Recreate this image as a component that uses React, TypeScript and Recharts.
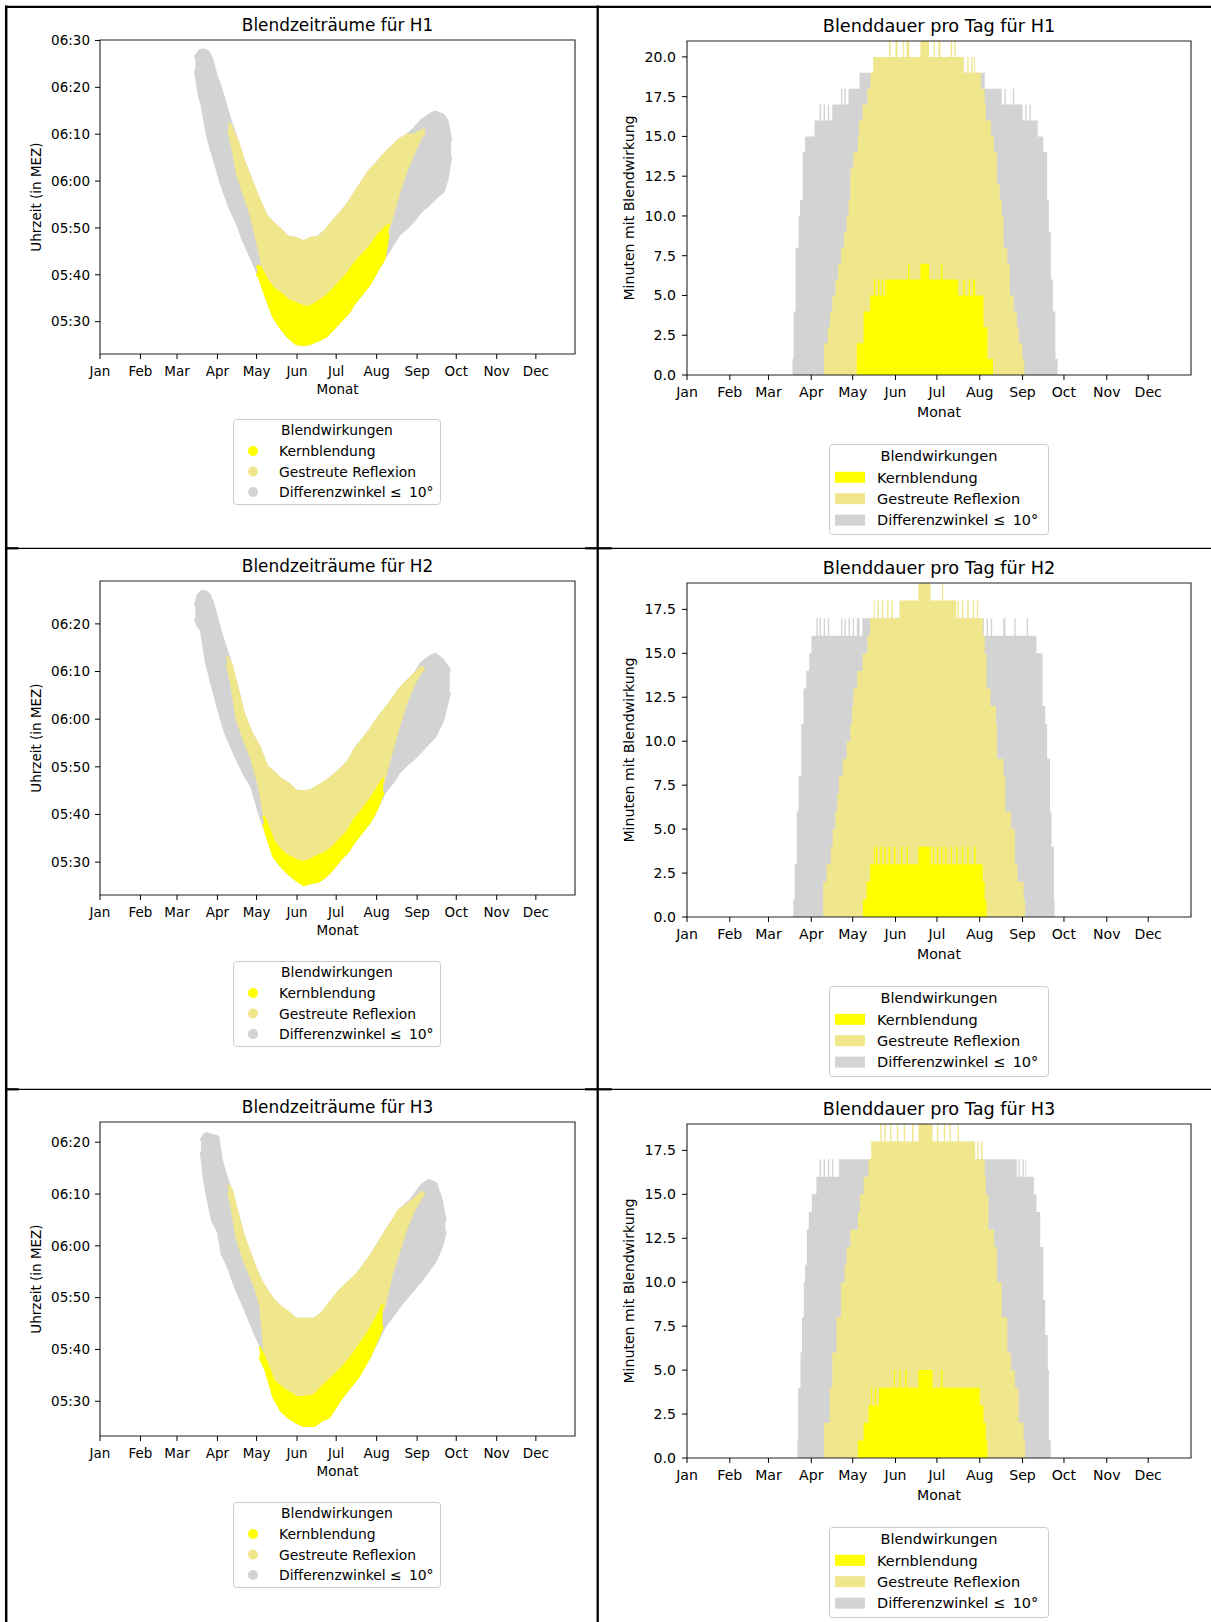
import React from 'react';
import { ComposedChart, Area, XAxis, YAxis, ReferenceArea, Legend } from 'recharts';

const FONT = 'DejaVu Sans, sans-serif';

// x axis: day of year, month starts
const MONTH_DAYS = [0, 31, 59, 90, 120, 151, 181, 212, 243, 273, 304, 334];
const MONTH_LABELS = ['Jan', 'Feb', 'Mar', 'Apr', 'May', 'Jun', 'Jul', 'Aug', 'Sep', 'Oct', 'Nov', 'Dec'];

const LEGEND_TITLE = 'Blendwirkungen';
const LEGEND_LABELS = ['Kernblendung', 'Gestreute Reflexion', 'Differenzwinkel ≤ \u200910°'];
const SERIES_COLORS = ['#ffff00', '#f0e68c', '#d3d3d3'];

// y ticks (minutes after midnight for the time charts)
const TIME_TICKS_H1 = [330, 340, 350, 360, 370, 380, 390];
const TIME_TICKS_H23 = [330, 340, 350, 360, 370, 380];
const DUR_TICKS_H1 = [0, 2.5, 5, 7.5, 10, 12.5, 15, 17.5, 20];
const DUR_TICKS_H23 = [0, 2.5, 5, 7.5, 10, 12.5, 15, 17.5];

// ---- Blendzeiträume: [day, earliest minute, latest minute] ----
const H1_TIME_DIFF = [
  [73, 383.5, 386.6], [76, 378, 387.8], [78, 376.3, 388], [80, 373, 388], [83, 368.8, 387.6],
  [86, 365.9, 386], [89, 363.1, 382.7], [93, 359.2, 379.5], [99, 354.5, 373.8], [105, 351, 368.8],
  [110, 347.1, 364.5], [116, 343.5, 360.2], [122, 339.5, 356], [128, 334.6, 352.4], [133, 331, 351],
  [139, 328.5, 349.5], [144, 326.8, 348.1], [150, 325.3, 347.8], [156, 325, 347.1], [161, 325.3, 347.8],
  [167, 326, 348], [173, 326.8, 349.5], [178, 328.2, 351.3], [184, 330, 353.1], [190, 331.7, 355.2],
  [195, 333.9, 357.4], [201, 336, 359.9], [207, 338.1, 362.4], [212, 340.6, 363.8], [218, 343.5, 365.8],
  [224, 346.3, 367.4], [229, 348.5, 368.8], [235, 349.9, 369.8], [241, 351.7, 371.3], [246, 353.5, 372.9],
  [252, 354.9, 374.1], [257, 356.3, 374.8], [263, 357.7, 374.1], [266, 360.2, 373], [269, 365.2, 368.8],
];
const H1_TIME_GESTREUT = [
  [98.5, 370.8, 372.3], [100, 369, 372], [102, 366.6, 370.6], [105, 361.7, 368.8], [110, 357.4, 364.5],
  [116, 352.4, 360.2], [122, 345.3, 356], [128, 337.5, 352.4], [133, 335.5, 351], [139, 334.4, 349.5],
  [144, 333.1, 348.1], [150, 332.4, 347.8], [156, 331.7, 347.1], [161, 331.7, 347.8], [167, 332.7, 348],
  [173, 333.8, 349.5], [178, 335.2, 351.3], [184, 337, 353.1], [190, 338.8, 355.2], [195, 340.9, 357.4],
  [201, 342.7, 359.9], [207, 344.5, 362.4], [212, 346.6, 363.8], [218, 348.4, 365.8], [221, 349.5, 366.6],
  [224, 352.4, 367.4], [229, 357.4, 368.8], [235, 362.4, 369.8], [241, 366.3, 369.9], [246, 369.3, 370.8],
  [248.5, 370.2, 370.9],
];
const H1_TIME_KERN = [
  [120.5, 340, 341.8], [122, 339.5, 341.9], [125, 337, 340.5], [128, 334.6, 338.9], [133, 331, 337],
  [139, 328.5, 335.9], [144, 326.8, 334.6], [150, 325.3, 333.9], [156, 325, 333.2], [161, 325.3, 333.2],
  [167, 326, 334.2], [173, 326.8, 335.3], [178, 328.2, 336.7], [184, 330, 338.5], [190, 331.7, 340.3],
  [195, 333.9, 342.4], [201, 336, 344.2], [207, 338.1, 346], [212, 340.6, 348.1], [218, 343.5, 349.9],
  [221, 348.5, 350.6],
];

const H2_TIME_DIFF = [
  [73, 381, 384], [75, 379.5, 386], [77.5, 378.7, 386.8], [81, 372.5, 386.8], [84, 369, 386.1],
  [87, 366, 384], [90, 362.7, 380.8], [96, 357.1, 375.2], [99, 355.2, 372.8], [105, 351.5, 366.9],
  [110, 348.7, 361.3], [116, 345.9, 357.1], [122, 340.3, 354.3], [128, 335.4, 350.1], [133, 331.2, 348.9],
  [139, 329.1, 347.3], [144, 327.7, 346.6], [150, 326.3, 345], [156, 325.2, 344.8], [161, 325.6, 345],
  [167, 325.9, 345.9], [173, 327, 346.9], [178, 328.4, 348], [184, 330.5, 349.4], [190, 332.2, 351.1],
  [195, 334.3, 353.6], [201, 336.4, 355.7], [207, 338.5, 357.8], [212, 341, 359.9], [218, 344.5, 362],
  [224, 346.6, 364.1], [229, 348.7, 366.2], [235, 350.4, 367.9], [241, 351.8, 369.5], [246, 353.2, 371.7],
  [252, 355, 373], [257, 356.4, 373.7], [263, 359.9, 372.4], [268, 365.5, 370.3],
];
const H2_TIME_GESTREUT = [
  [97.5, 371.4, 373.1], [101, 366.9, 371.2], [105, 359.9, 366.9], [110, 355.9, 361.3], [116, 351.8, 357.1],
  [122, 345.9, 354.3], [126, 339.5, 351.5], [128, 337, 350.1], [133, 333.4, 348.9], [139, 331.3, 347.3],
  [144, 330.3, 346.6], [150, 329.4, 345], [156, 329, 344.8], [161, 329.4, 345], [167, 330.3, 345.9],
  [173, 331, 346.9], [178, 332, 348], [184, 333.8, 349.4], [190, 335.5, 351.1], [195, 337.9, 353.6],
  [201, 340, 355.7], [207, 342.1, 357.8], [212, 344.2, 359.9], [217, 346.5, 361.6], [224, 353.6, 364.1],
  [229, 358.5, 366.2], [235, 363.7, 367.9], [241, 367.6, 369.5], [246, 370, 370.9], [248, 370.2, 370.7],
];
const H2_TIME_KERN = [
  [125.5, 337.8, 339.5], [128, 335.4, 338], [133, 331.2, 334.4], [139, 329.1, 332.3], [144, 327.7, 331.3],
  [150, 326.3, 330.4], [156, 325.2, 330], [161, 325.6, 330.4], [167, 325.9, 331.3], [173, 327, 332],
  [178, 328.4, 333], [184, 330.5, 334.8], [190, 332.2, 336.5], [195, 334.3, 338.9], [201, 336.4, 341],
  [207, 338.5, 343.1], [212, 341, 345.2], [217, 344.5, 347.5],
];

const H3_TIME_DIFF = [
  [77.5, 378, 380.5], [80, 372.5, 381.5], [82, 369.8, 381.7], [86, 364.9, 381.4], [90.5, 362.7, 381],
  [93.3, 358.5, 376.5], [97.6, 356.2, 372.7], [99, 355.3, 371.7], [104.7, 351.4, 366.9], [110.3, 348.2, 361.7],
  [118.8, 343, 355.9], [124.5, 339.8, 352.7], [133, 330.8, 349.5], [141.5, 327.6, 347.5], [150, 326, 345.9],
  [155.6, 325.3, 345.9], [164.1, 325.3, 345.9], [169.8, 326.3, 346.9], [175.4, 326.9, 348.8], [183.9, 330.2, 351.4],
  [195.3, 334, 354], [206.6, 338.5, 357.8], [217.9, 344.3, 362.4], [229.3, 348.2, 366.9], [237.8, 350.8, 368.8],
  [246.3, 353.3, 371.7], [252, 355.3, 372.7], [257.6, 357.2, 372], [261.8, 359.8, 368.8], [264.7, 362.7, 364.9],
];
const H3_TIME_GESTREUT = [
  [98.5, 370.1, 371.6], [101, 367.5, 370.8], [104.7, 361.7, 366.9], [110.3, 357.2, 361.7], [118.8, 352.1, 355.9],
  [123, 348.5, 353.5], [127, 336.9, 351.8], [133, 333, 349.5], [138.7, 331.7, 348.2], [144.3, 330.8, 347.2],
  [150, 329.8, 345.9], [155.6, 329.8, 345.9], [164.1, 330.1, 345.9], [169.8, 331.7, 346.9], [175.4, 333, 348.8],
  [183.9, 335, 351.4], [189.6, 336.6, 352.8], [198, 339.5, 354.8], [206.6, 342.7, 357.8], [212.3, 345.3, 360],
  [217.9, 348.3, 362.4], [223.6, 354.6, 364.6], [229.3, 359.1, 366.9], [235, 363.6, 367.9], [240.6, 366.9, 369],
  [246.3, 369.4, 370.3], [248, 369.7, 370.2],
];
const H3_TIME_KERN = [
  [122.5, 338.5, 340.3], [127, 336, 337.9], [133, 330.8, 334], [138.7, 328.2, 332.7], [144.3, 326.9, 331.8],
  [150, 326, 330.8], [155.6, 325.3, 330.8], [164.1, 325.3, 331.1], [169.8, 326.3, 332.7], [175.4, 326.9, 334],
  [183.9, 330.2, 336], [189.6, 332.1, 337.6], [198, 334.7, 340.5], [206.6, 338.5, 343.7], [212.3, 341.8, 346.3],
  [216.5, 344.3, 348.5],
];

// ---- Blenddauer: [day where level starts, minutes] ----
const H1_DUR_DIFF = [
  [76.4, 1], [77.2, 4], [78.6, 8], [80.8, 10], [81.9, 11], [83.8, 14], [85.5, 15], [92.3, 16], [96, 17],
  [97, 16], [99, 17], [100, 16], [102, 17], [103, 16], [105.2, 17], [111.5, 18], [112.5, 17], [114, 18],
  [115, 17], [117, 18], [125, 19], [215.6, 18], [227.9, 17], [230, 18], [231, 17], [236, 18], [237, 17],
  [243, 16], [245, 17], [246, 16], [248, 17], [249, 16], [254, 15], [258, 14], [260.8, 11], [262.1, 9],
  [263.5, 6], [265, 4], [266.8, 1], [268.4, 0],
];
const H1_DUR_GESTREUT = [
  [99.2, 2], [101.9, 3], [103.5, 4], [105.2, 5], [107.4, 6], [109.3, 7], [111.5, 8], [113.7, 9], [115.6, 10],
  [117, 11], [118.3, 13], [120.5, 14], [123.8, 15], [124.6, 16], [127.1, 17], [130.6, 18], [132.8, 19],
  [134.8, 20], [146.3, 21], [147.5, 20], [151, 21], [152.5, 20], [156.5, 21], [157.3, 20], [159, 21],
  [161, 20], [169, 21], [175.3, 20], [178.6, 21], [179.5, 20], [182, 21], [183.5, 20], [191, 21], [192, 20],
  [193.5, 21], [194.5, 20], [200.5, 19], [203, 20], [204, 19], [206, 20], [207, 19], [208, 20], [208.7, 19],
  [212.8, 18], [215.6, 17], [216.4, 16], [220.2, 15], [222.4, 14], [224.6, 12], [226.5, 11], [227.9, 10],
  [229.3, 8], [232, 7], [233.9, 5], [236.6, 4], [238.8, 3], [240.2, 2], [242.9, 1], [244.3, 0],
];
const H1_DUR_KERN = [
  [123, 2], [127.9, 4], [132.6, 5], [135.3, 6], [136.3, 5], [138.5, 6], [139.5, 5], [141, 6], [142, 5],
  [143.5, 6], [160, 7], [161, 6], [169, 7], [175.3, 6], [184, 7], [185, 6], [196.4, 5], [200, 6], [201, 5],
  [204, 6], [205, 5], [207, 6], [208.7, 5], [214.7, 3], [217.5, 1], [221.6, 0],
];

const H2_DUR_DIFF = [
  [77, 1], [78, 3], [79.5, 6], [80.8, 8], [82.7, 11], [84.4, 13], [86.3, 14], [88.5, 15], [90.1, 16],
  [93.7, 17], [94.7, 16], [96, 17], [97, 16], [99, 17], [100, 16], [102, 17], [103, 16], [111.5, 17],
  [112.5, 16], [114, 17], [115, 16], [117, 17], [118, 16], [120, 17], [121, 16], [123, 17], [125, 16],
  [127, 17], [212.8, 16], [214, 17], [215, 16], [217, 17], [218, 16], [220, 17], [221, 16], [229, 17],
  [230.6, 16], [237, 17], [238, 16], [246, 17], [247, 16], [253.1, 15], [257.5, 12], [259.5, 11],
  [260.8, 9], [262.9, 6], [264, 4], [265.7, 1], [266.2, 0],
];
const H2_DUR_GESTREUT = [
  [98.6, 2], [101, 3], [104.1, 4], [105.5, 5], [107.4, 6], [108.8, 7], [110.1, 8], [112.8, 9], [115.6, 10],
  [118.3, 11], [119.5, 12], [120.5, 13], [123.3, 14], [127.1, 15], [130.6, 16], [132.6, 17], [135.3, 18],
  [136, 17], [138, 18], [139, 17], [141, 18], [142, 17], [145, 18], [146, 17], [148, 18], [149, 17],
  [153.9, 18], [167.6, 19], [176.4, 18], [184.6, 19], [185.5, 18], [195, 17], [196, 18], [197, 17],
  [199, 18], [200, 17], [203, 18], [204, 17], [207, 18], [208, 17], [210, 18], [210.9, 17], [214.2, 16],
  [215.6, 15], [216.9, 13], [219.7, 12], [223.8, 11], [224.6, 9], [229.3, 8], [230.6, 6], [234.7, 5],
  [237.5, 3], [239.4, 2], [243.8, 1], [244.9, 0],
];
const H2_DUR_KERN = [
  [127.4, 1], [130.1, 2], [132.6, 3], [135.3, 4], [136, 3], [137, 4], [138, 3], [140, 4], [141, 3],
  [143, 4], [144, 3], [146, 4], [147, 3], [150, 4], [151, 3], [155, 4], [156, 3], [159, 4], [160, 3],
  [167.6, 4], [176.4, 3], [178, 4], [179, 3], [181, 4], [182, 3], [184, 4], [185, 3], [187, 4], [188, 3],
  [191, 4], [192, 3], [195, 4], [196, 3], [199, 4], [200, 3], [203, 4], [204, 3], [208, 4], [209, 3],
  [214.2, 2], [215.6, 1], [216.9, 0],
];

const H3_DUR_DIFF = [
  [80, 1], [80.5, 4], [82.2, 6], [83.3, 8], [84.6, 10], [85.5, 11], [86.8, 13], [88.2, 14], [90.4, 15],
  [93.7, 16], [96, 17], [97, 16], [99, 17], [100, 16], [102, 17], [103, 16], [105, 17], [106, 16],
  [110.1, 17], [238.8, 16], [240, 17], [241, 16], [243, 17], [244, 16], [245, 17], [245.7, 16],
  [251.2, 15], [253.1, 14], [255.8, 12], [258, 9], [259.4, 7], [261.3, 5], [262.1, 1], [263.5, 0],
];
const H3_DUR_GESTREUT = [
  [99.2, 2], [103.3, 4], [105.2, 6], [108.2, 8], [111.5, 10], [114.2, 11], [115.6, 12], [118.3, 13],
  [123.8, 14], [125.2, 15], [127.9, 16], [131.5, 17], [133.4, 18], [140, 19], [141, 18], [143, 19],
  [144, 18], [147, 19], [148, 18], [152, 19], [153, 18], [157, 19], [158, 18], [163, 19], [164, 18],
  [167.6, 19], [177.8, 18], [181, 19], [182, 18], [186, 19], [187, 18], [190, 19], [191, 18], [196, 19],
  [197, 18], [208.7, 17], [210, 18], [211, 17], [213, 18], [214, 17], [215.6, 16], [216.4, 15],
  [218.3, 13], [222.4, 12], [224.6, 10], [227.9, 8], [232, 6], [234.7, 5], [237.5, 4], [240.2, 2],
  [243.8, 1], [244.9, 0],
];
const H3_DUR_KERN = [
  [123.8, 1], [127.9, 2], [131.5, 3], [133.4, 4], [134, 3], [136, 4], [137, 3], [138.9, 4], [149.8, 5],
  [150.5, 4], [153.9, 5], [154.8, 4], [158, 5], [159, 4], [167.6, 5], [177.8, 4], [184, 5], [185, 4],
  [212, 3], [214.7, 2], [216.4, 1], [217.5, 0],
];

const toRange = (rows: number[][]) => rows.map(([d, lo, hi]) => ({ d, r: [lo, hi] }));
const toStep = (rows: number[][]) => rows.map(([d, v]) => ({ d, v }));
const fmtMonth = (d: number) => MONTH_LABELS[MONTH_DAYS.indexOf(d)] ?? '';
const fmtTime = (m: number) => {
  const h = Math.floor(m / 60);
  const mm = Math.round(m - h * 60);
  return `${String(h).padStart(2, '0')}:${String(mm).padStart(2, '0')}`;
};

function TimeLegend() {
  const w = 208, h = 86, fs = 13.9;
  return (
    <svg width={w} height={h} style={{ display: 'block' }}>
      <rect x={0.5} y={0.5} width={w - 1} height={h - 1} rx={3} fill="#fff" stroke="#cccccc" />
      <text x={w / 2} y={16} textAnchor="middle" fontSize={fs} fontFamily={FONT}>{LEGEND_TITLE}</text>
      {LEGEND_LABELS.map((lab, i) => (
        <g key={lab}>
          <circle cx={20} cy={32 + i * 20.5} r={5} fill={SERIES_COLORS[i]} />
          <text x={46} y={37 + i * 20.5} fontSize={fs} fontFamily={FONT}>{lab}</text>
        </g>
      ))}
    </svg>
  );
}

function DurLegend() {
  const w = 220, h = 91, fs = 14.5;
  return (
    <svg width={w} height={h} style={{ display: 'block' }}>
      <rect x={0.5} y={0.5} width={w - 1} height={h - 1} rx={3} fill="#fff" stroke="#cccccc" />
      <text x={w / 2} y={17} textAnchor="middle" fontSize={fs} fontFamily={FONT}>{LEGEND_TITLE}</text>
      {LEGEND_LABELS.map((lab, i) => (
        <g key={lab}>
          <rect x={6} y={33.3 + i * 21.4 - 5.5} width={30} height={11} fill={SERIES_COLORS[i]} />
          <text x={48} y={38.5 + i * 21.4} fontSize={fs} fontFamily={FONT}>{lab}</text>
        </g>
      ))}
    </svg>
  );
}

function TimePanel({ top, plotTop, title, diff, gestreut, kern, yDomain, yTicks }: any) {
  const W = 597, H = 542, plotH = 314, axisH = 40, fs = 13.5;
  const band = { type: 'linear' as const, fillOpacity: 1, strokeWidth: 2.5, strokeLinecap: 'round' as const,
    strokeLinejoin: 'round' as const, isAnimationActive: false, dot: false, activeDot: false };
  return (
    <div style={{ position: 'absolute', left: 0, top, width: W, height: H }}>
      <svg width={W} height={40} style={{ position: 'absolute', left: 0, top: 0 }}>
        <text x={337.5} y={plotTop - 8.9} textAnchor="middle" fontSize={16.9} fontFamily={FONT}>{title}</text>
      </svg>
      <ComposedChart width={W} height={H} margin={{ top: plotTop, right: 22, left: 30, bottom: H - plotTop - plotH - axisH }}
        style={{ fontFamily: FONT }}>
        <XAxis dataKey="d" type="number" domain={[0, 364]} allowDataOverflow ticks={MONTH_DAYS} interval={0}
          tickFormatter={fmtMonth} axisLine={false} tickLine={{ stroke: '#000' }} tickSize={5} tickMargin={7}
          height={axisH} tick={{ fontSize: fs, fill: '#000' }}
          label={{ value: 'Monat', position: 'insideBottom', offset: 0, fontSize: fs, fill: '#000' }} />
        <YAxis type="number" domain={yDomain} allowDataOverflow ticks={yTicks} interval={0} tickFormatter={fmtTime}
          axisLine={false} tickLine={{ stroke: '#000' }} tickSize={5} tickMargin={5} width={70}
          tick={{ fontSize: fs, fill: '#000' }}
          label={{ value: 'Uhrzeit (in MEZ)', angle: -90, position: 'insideLeft', offset: 6, fontSize: fs, fill: '#000', style: { textAnchor: 'middle' } }} />
        <Area {...band} data={toRange(diff)} dataKey="r" fill={SERIES_COLORS[2]} stroke={SERIES_COLORS[2]} />
        <Area {...band} data={toRange(gestreut)} dataKey="r" fill={SERIES_COLORS[1]} stroke={SERIES_COLORS[1]} />
        <Area {...band} data={toRange(kern)} dataKey="r" fill={SERIES_COLORS[0]} stroke={SERIES_COLORS[0]} />
        <ReferenceArea x1={0} x2={364} y1={yDomain[0]} y2={yDomain[1]} fill="none" fillOpacity={0}
          stroke="#222" strokeWidth={1.1} ifOverflow="visible" />
        <Legend layout="vertical" align="center" verticalAlign="middle"
          wrapperStyle={{ left: 233, top: 413, width: 208, height: 86 }} content={() => <TimeLegend />} />
      </ComposedChart>
    </div>
  );
}

function DurPanel({ top, plotTop, title, diff, gestreut, kern, yDomain, yTicks }: any) {
  const W = 614, H = 542, plotH = 334, axisH = 42, fs = 14.1;
  return (
    <div style={{ position: 'absolute', left: 597, top, width: W, height: H }}>
      <svg width={W} height={40} style={{ position: 'absolute', left: 0, top: 0 }}>
        <text x={342} y={plotTop - 8.6} textAnchor="middle" fontSize={17.7} fontFamily={FONT}>{title}</text>
      </svg>
      <ComposedChart width={W} height={H} margin={{ top: plotTop, right: 20, left: 26, bottom: H - plotTop - plotH - axisH }}
        style={{ fontFamily: FONT }}>
        <XAxis dataKey="d" type="number" domain={[0, 365]} allowDataOverflow ticks={MONTH_DAYS} interval={0}
          tickFormatter={fmtMonth} axisLine={false} tickLine={{ stroke: '#000' }} tickSize={5} tickMargin={7}
          height={axisH} tick={{ fontSize: fs, fill: '#000' }}
          label={{ value: 'Monat', position: 'insideBottom', offset: 0, fontSize: fs, fill: '#000' }} />
        <YAxis type="number" domain={yDomain} allowDataOverflow ticks={yTicks} interval={0}
          tickFormatter={(v: number) => v.toFixed(1)} axisLine={false} tickLine={{ stroke: '#000' }} tickSize={5}
          tickMargin={6} width={64} tick={{ fontSize: fs, fill: '#000' }}
          label={{ value: 'Minuten mit Blendwirkung', angle: -90, position: 'insideLeft', offset: 6, fontSize: fs, fill: '#000', style: { textAnchor: 'middle' } }} />
        <Area data={toStep(diff)} dataKey="v" type="stepAfter" fill={SERIES_COLORS[2]} fillOpacity={1}
          stroke="none" isAnimationActive={false} dot={false} activeDot={false} />
        <Area data={toStep(gestreut)} dataKey="v" type="stepAfter" fill={SERIES_COLORS[1]} fillOpacity={1}
          stroke="none" isAnimationActive={false} dot={false} activeDot={false} />
        <Area data={toStep(kern)} dataKey="v" type="stepAfter" fill={SERIES_COLORS[0]} fillOpacity={1}
          stroke="none" isAnimationActive={false} dot={false} activeDot={false} />
        <ReferenceArea x1={0} x2={365} y1={yDomain[0]} y2={yDomain[1]} fill="none" fillOpacity={0}
          stroke="#222" strokeWidth={1.1} ifOverflow="visible" />
        <Legend layout="vertical" align="center" verticalAlign="middle"
          wrapperStyle={{ left: 232, top: 438, width: 220, height: 91 }} content={() => <DurLegend />} />
      </ComposedChart>
    </div>
  );
}

export default function App() {
  return (
    <div style={{ position: 'absolute', left: 0, top: 0, width: 1211, height: 1622, background: '#fff', overflow: 'hidden', fontFamily: FONT }}>
      <TimePanel top={6} plotTop={34} title="Blendzeiträume für H1" diff={H1_TIME_DIFF} gestreut={H1_TIME_GESTREUT}
        kern={H1_TIME_KERN} yDomain={[323.1, 390.1]} yTicks={TIME_TICKS_H1} />
      <TimePanel top={548} plotTop={33} title="Blendzeiträume für H2" diff={H2_TIME_DIFF} gestreut={H2_TIME_GESTREUT}
        kern={H2_TIME_KERN} yDomain={[323.1, 389]} yTicks={TIME_TICKS_H23} />
      <TimePanel top={1089} plotTop={33} title="Blendzeiträume für H3" diff={H3_TIME_DIFF} gestreut={H3_TIME_GESTREUT}
        kern={H3_TIME_KERN} yDomain={[323.3, 383.9]} yTicks={TIME_TICKS_H23} />
      <DurPanel top={6} plotTop={35} title="Blenddauer pro Tag für H1" diff={H1_DUR_DIFF} gestreut={H1_DUR_GESTREUT}
        kern={H1_DUR_KERN} yDomain={[0, 21]} yTicks={DUR_TICKS_H1} />
      <DurPanel top={548} plotTop={35} title="Blenddauer pro Tag für H2" diff={H2_DUR_DIFF} gestreut={H2_DUR_GESTREUT}
        kern={H2_DUR_KERN} yDomain={[0, 19]} yTicks={DUR_TICKS_H23} />
      <DurPanel top={1089} plotTop={35} title="Blenddauer pro Tag für H3" diff={H3_DUR_DIFF} gestreut={H3_DUR_GESTREUT}
        kern={H3_DUR_KERN} yDomain={[0, 19]} yTicks={DUR_TICKS_H23} />
      <svg width={1211} height={1622} style={{ position: 'absolute', left: 0, top: 0, pointerEvents: 'none' }}>
        <line x1={6.2} y1={5.5} x2={6.2} y2={1622} stroke="#000" strokeWidth={2.5} />
        <line x1={5} y1={6.8} x2={1211} y2={6.8} stroke="#000" strokeWidth={2.3} />
        <line x1={597.7} y1={5.5} x2={597.7} y2={1622} stroke="#000" strokeWidth={2.3} />
        <line x1={5} y1={548.3} x2={1211} y2={548.3} stroke="#000" strokeWidth={1.2} />
        <line x1={5} y1={1089.3} x2={1211} y2={1089.3} stroke="#000" strokeWidth={1.2} />
        <line x1={5} y1={548.3} x2={18.5} y2={548.3} stroke="#000" strokeWidth={2.2} />
        <line x1={585} y1={548.3} x2={611.7} y2={548.3} stroke="#000" strokeWidth={2.2} />
        <line x1={5} y1={1089.3} x2={18.5} y2={1089.3} stroke="#000" strokeWidth={2.2} />
        <line x1={585} y1={1089.3} x2={611.7} y2={1089.3} stroke="#000" strokeWidth={2.2} />
      </svg>
    </div>
  );
}
